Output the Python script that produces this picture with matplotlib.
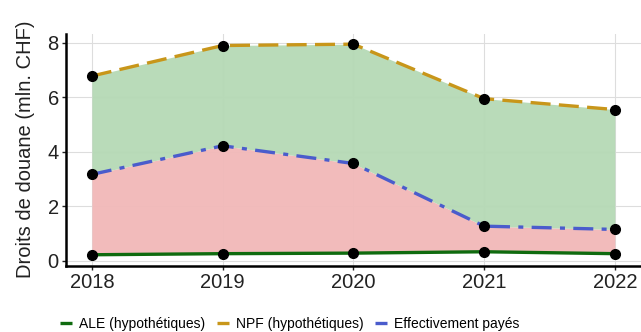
import matplotlib
matplotlib.use("Agg")
import matplotlib.pyplot as plt

plt.rcParams['font.family'] = ['Liberation Sans', 'DejaVu Sans']

years = [2018, 2019, 2020, 2021, 2022]
ale = [0.22, 0.26, 0.28, 0.33, 0.26]
npf = [6.78, 7.9, 7.95, 5.95, 5.55]
eff = [3.17, 4.22, 3.57, 1.27, 1.15]

year_labels = ['2018', '2019', '2020', '2021', '2022']
legend_labels = ['ALE (hypothétiques)', 'NPF (hypothétiques)', 'Effectivement payés']

fig = plt.figure(figsize=(6.41, 3.32), dpi=100)
ax = fig.add_axes([0.1025, 0.199, 0.8975, 0.70])

ax.fill_between(years, ale, eff, color='#f2b8b8', alpha=0.95, lw=0, zorder=1)
ax.fill_between(years, eff, npf, color='#b5d9b5', alpha=0.95, lw=0, zorder=1)

l1, = ax.plot(years, ale, color='#0f6b0f', lw=2.4, solid_capstyle='butt', zorder=3)
l2, = ax.plot(years, npf, color='#c8961a', lw=2.4, dashes=(6, 2.5), zorder=3)
l3, = ax.plot(years, eff, color='#4a5ccc', lw=2.4, dashes=(6, 2.5, 1.5, 2.5), zorder=3)
for s in (ale, npf, eff):
    ax.plot(years, s, 'o', color='black', ms=7, zorder=4)

ax.set_xlim(2017.8, 2022.2)
ax.set_ylim(-0.19, 8.34)
ax.set_xticks(years)
ax.set_xticklabels(year_labels)
ax.set_yticks([0, 2, 4, 6, 8])
ax.grid(True, color='#dddddd', lw=0.8, zorder=0)
ax.set_axisbelow(True)
for sp in ('top', 'right'):
    ax.spines[sp].set_visible(False)
for sp in ('left', 'bottom'):
    ax.spines[sp].set_linewidth(1.8)
    ax.spines[sp].set_color('black')
ax.tick_params(axis='both', labelsize=14.5, colors='#222222', length=3, width=1)
ax.tick_params(axis='x', pad=2)
ax.tick_params(axis='y', pad=2)
ax.set_ylabel('Droits de douane (mln. CHF)', fontsize=14.5, color='#222222', labelpad=9)

fig.legend([l1, l2, l3], legend_labels, loc='lower center', bbox_to_anchor=(0.452, -0.035),
           ncol=3, frameon=False, fontsize=10, handlelength=0.9, columnspacing=0.8,
           handletextpad=0.5)

fig.savefig('out.png', dpi=100)
